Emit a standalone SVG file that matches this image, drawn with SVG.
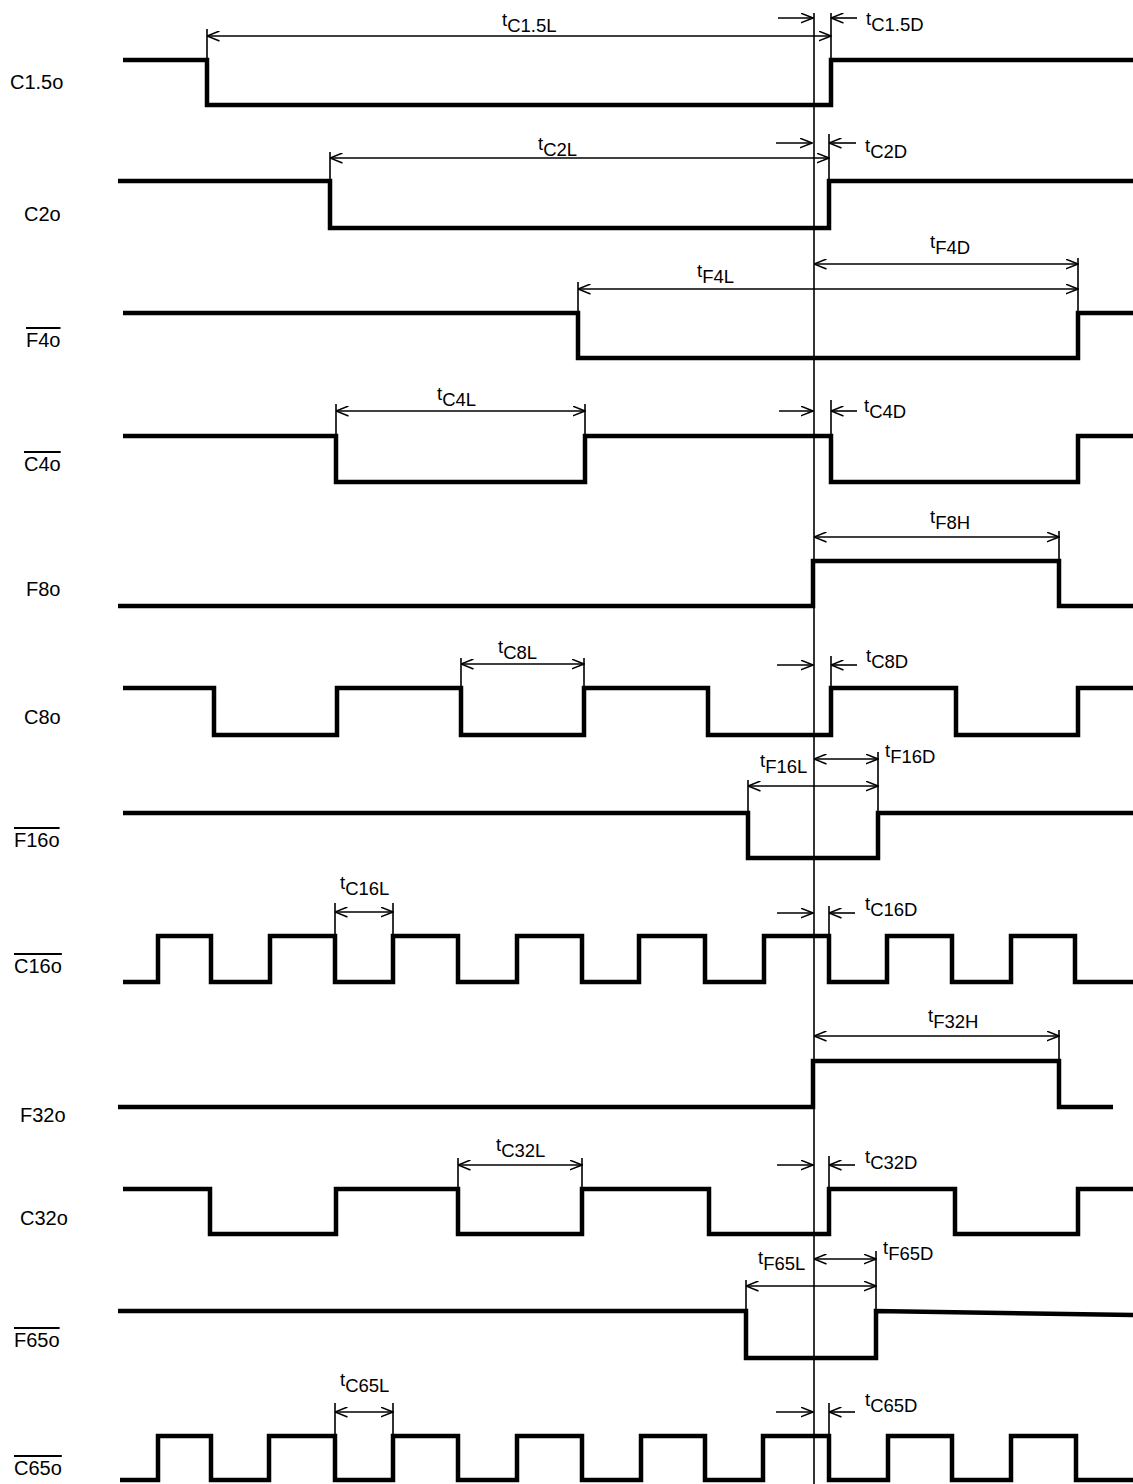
<svg xmlns="http://www.w3.org/2000/svg" width="1133" height="1484" viewBox="0 0 1133 1484">
<style>
.w{fill:none;stroke:#000;stroke-width:4.5;stroke-linejoin:miter;stroke-linecap:butt}
.e{fill:none;stroke:#000;stroke-width:1.6}
.d{fill:none;stroke:#000;stroke-width:1.6;marker-start:url(#ah);marker-end:url(#ah)}
.s{fill:none;stroke:#000;stroke-width:1.6;marker-end:url(#ah)}
.lbl{font-family:"Liberation Sans",Arial,sans-serif;font-size:20px;fill:#000}
.ov{text-decoration:overline}
.tm{font-family:"Liberation Sans",Arial,sans-serif;font-size:18.5px;fill:#000}
</style>
<defs>
<marker id="ah" viewBox="0 0 13 11" refX="12.5" refY="5.5" markerWidth="13" markerHeight="11" markerUnits="userSpaceOnUse" orient="auto-start-reverse">
<path d="M0,0.5 L12.5,5.5 L0,10.5" fill="none" stroke="#000" stroke-width="1.5"/>
</marker>
</defs>
<rect width="1133" height="1484" fill="#fff"/>

<g id="ref-line"><line class="e" x1="814" y1="13" x2="814" y2="1484" stroke-width="2"/></g>

<g id="C1_5o">
<text class="lbl" x="10" y="89">C1.5o</text>
<polyline class="w" points="123,60 207,60 207,105 831,105 831,60 1133,60"/>
</g>
<g id="C2o">
<text class="lbl" x="24" y="221">C2o</text>
<polyline class="w" points="118,181 330,181 330,228 829,228 829,181 1133,181"/>
</g>
<g id="F4o">
<text class="lbl ov" x="26" y="347">F4o</text>
<polyline class="w" points="123,313 578,313 578,358 1078,358 1078,313 1133,313"/>
</g>
<g id="C4o">
<text class="lbl ov" x="24" y="471">C4o</text>
<polyline class="w" points="123,436 336,436 336,482 585,482 585,436 831,436 831,482 1078,482 1078,436 1133,436"/>
</g>
<g id="F8o">
<text class="lbl" x="26" y="596">F8o</text>
<polyline class="w" points="118,606 813,606 813,561 1059,561 1059,606 1133,606"/>
</g>
<g id="C8o">
<text class="lbl" x="24" y="724">C8o</text>
<polyline class="w" points="123,688 214,688 214,735 337,735 337,688 461,688 461,735 584,735 584,688 708,688 708,735 831,735 831,688 956,688 956,735 1078,735 1078,688 1133,688"/>
</g>
<g id="F16o">
<text class="lbl ov" x="14" y="847">F16o</text>
<polyline class="w" points="123,813 748,813 748,858 878,858 878,813 1133,813"/>
</g>
<g id="C16o">
<text class="lbl ov" x="14" y="973">C16o</text>
<polyline class="w" points="123,982 158,982 158,936 211,936 211,982 270,982 270,936 335,936 335,982 393,982 393,936 458,936 458,982 517,982 517,936 582,936 582,982 639,982 639,936 705,936 705,982 764,982 764,936 829,936 829,982 887,982 887,936 952,936 952,982 1011,982 1011,936 1075,936 1075,982 1133,982"/>
</g>
<g id="F32o">
<text class="lbl" x="20" y="1122">F32o</text>
<polyline class="w" points="118,1107 813,1107 813,1061 1059,1061 1059,1107 1113,1107"/>
</g>
<g id="C32o">
<text class="lbl" x="20" y="1225">C32o</text>
<polyline class="w" points="123,1189 210,1189 210,1234 336,1234 336,1189 458,1189 458,1234 582,1234 582,1189 709,1189 709,1234 829,1234 829,1189 955,1189 955,1234 1078,1234 1078,1189 1133,1189"/>
</g>
<g id="F65o">
<text class="lbl ov" x="14" y="1347">F65o</text>
<polyline class="w" points="118,1311 746,1311 746,1358 876,1358 876,1311 1133,1315"/>
</g>
<g id="C65o">
<text class="lbl ov" x="14" y="1475">C65o</text>
<polyline class="w" points="120,1480 158,1480 158,1436 211,1436 211,1480 269,1480 269,1436 335,1436 335,1480 393,1480 393,1436 458,1436 458,1480 517,1480 517,1436 582,1436 582,1480 641,1480 641,1436 705,1436 705,1480 763,1480 763,1436 829,1436 829,1480 888,1480 888,1436 952,1436 952,1480 1011,1480 1011,1436 1076,1436 1076,1480 1133,1480"/>
</g>

<g id="connectors">
<path class="e" d="M207,29V60 M831,13V60 M330,152V181 M829,134V181 M578,282V313 M1078,258V313 M336,404V436 M585,404V436 M831,400V436 M1059,531V561 M461,658V688 M584,658V688 M831,656V688 M748,780V813 M878,752V813 M335,903V936 M393,903V936 M829,906V936 M1059,1030V1061 M458,1158V1189 M582,1158V1189 M829,1156V1189 M746,1280V1311 M876,1251V1311 M335,1403V1436 M393,1403V1436 M829,1403V1436"/>
<line class="d" x1="207" y1="36" x2="831" y2="36"/>
<line class="d" x1="330" y1="158" x2="829" y2="158"/>
<line class="d" x1="814" y1="264" x2="1078" y2="264"/>
<line class="d" x1="578" y1="289" x2="1078" y2="289"/>
<line class="d" x1="336" y1="411" x2="585" y2="411"/>
<line class="d" x1="814" y1="537" x2="1059" y2="537"/>
<line class="d" x1="461" y1="664" x2="584" y2="664"/>
<line class="d" x1="814" y1="759" x2="878" y2="759"/>
<line class="d" x1="748" y1="786" x2="878" y2="786"/>
<line class="d" x1="335" y1="912" x2="393" y2="912"/>
<line class="d" x1="814" y1="1036" x2="1059" y2="1036"/>
<line class="d" x1="458" y1="1165" x2="582" y2="1165"/>
<line class="d" x1="814" y1="1259" x2="876" y2="1259"/>
<line class="d" x1="746" y1="1286" x2="876" y2="1286"/>
<line class="d" x1="335" y1="1412" x2="393" y2="1412"/>
<line class="s" x1="778" y1="18" x2="813" y2="18"/><line class="s" x1="857" y1="18" x2="831" y2="18"/>
<line class="s" x1="776" y1="143" x2="812" y2="143"/><line class="s" x1="856" y1="143" x2="829" y2="143"/>
<line class="s" x1="779" y1="411" x2="813" y2="411"/><line class="s" x1="857" y1="411" x2="831" y2="411"/>
<line class="s" x1="777" y1="665" x2="813" y2="665"/><line class="s" x1="857" y1="665" x2="831" y2="665"/>
<line class="s" x1="777" y1="913" x2="813" y2="913"/><line class="s" x1="855" y1="913" x2="829" y2="913"/>
<line class="s" x1="777" y1="1165" x2="813" y2="1165"/><line class="s" x1="855" y1="1165" x2="829" y2="1165"/>
<line class="s" x1="776" y1="1412" x2="813" y2="1412"/><line class="s" x1="855" y1="1412" x2="829" y2="1412"/>
</g>

<g id="timing-labels">
<text class="tm" x="502" y="26">t<tspan dy="6">C1.5L</tspan></text>
<text class="tm" x="866" y="25">t<tspan dy="6">C1.5D</tspan></text>
<text class="tm" x="538" y="150">t<tspan dy="6">C2L</tspan></text>
<text class="tm" x="865" y="152">t<tspan dy="6">C2D</tspan></text>
<text class="tm" x="930" y="248">t<tspan dy="6">F4D</tspan></text>
<text class="tm" x="697" y="277">t<tspan dy="6">F4L</tspan></text>
<text class="tm" x="437" y="400">t<tspan dy="6">C4L</tspan></text>
<text class="tm" x="864" y="412">t<tspan dy="6">C4D</tspan></text>
<text class="tm" x="930" y="523">t<tspan dy="6">F8H</tspan></text>
<text class="tm" x="498" y="653">t<tspan dy="6">C8L</tspan></text>
<text class="tm" x="866" y="662">t<tspan dy="6">C8D</tspan></text>
<text class="tm" x="760" y="767">t<tspan dy="6">F16L</tspan></text>
<text class="tm" x="885" y="757">t<tspan dy="6">F16D</tspan></text>
<text class="tm" x="340" y="889">t<tspan dy="6">C16L</tspan></text>
<text class="tm" x="865" y="910">t<tspan dy="6">C16D</tspan></text>
<text class="tm" x="928" y="1022">t<tspan dy="6">F32H</tspan></text>
<text class="tm" x="496" y="1151">t<tspan dy="6">C32L</tspan></text>
<text class="tm" x="865" y="1163">t<tspan dy="6">C32D</tspan></text>
<text class="tm" x="758" y="1264">t<tspan dy="6">F65L</tspan></text>
<text class="tm" x="883" y="1254">t<tspan dy="6">F65D</tspan></text>
<text class="tm" x="340" y="1386">t<tspan dy="6">C65L</tspan></text>
<text class="tm" x="865" y="1406">t<tspan dy="6">C65D</tspan></text>
</g>
</svg>
